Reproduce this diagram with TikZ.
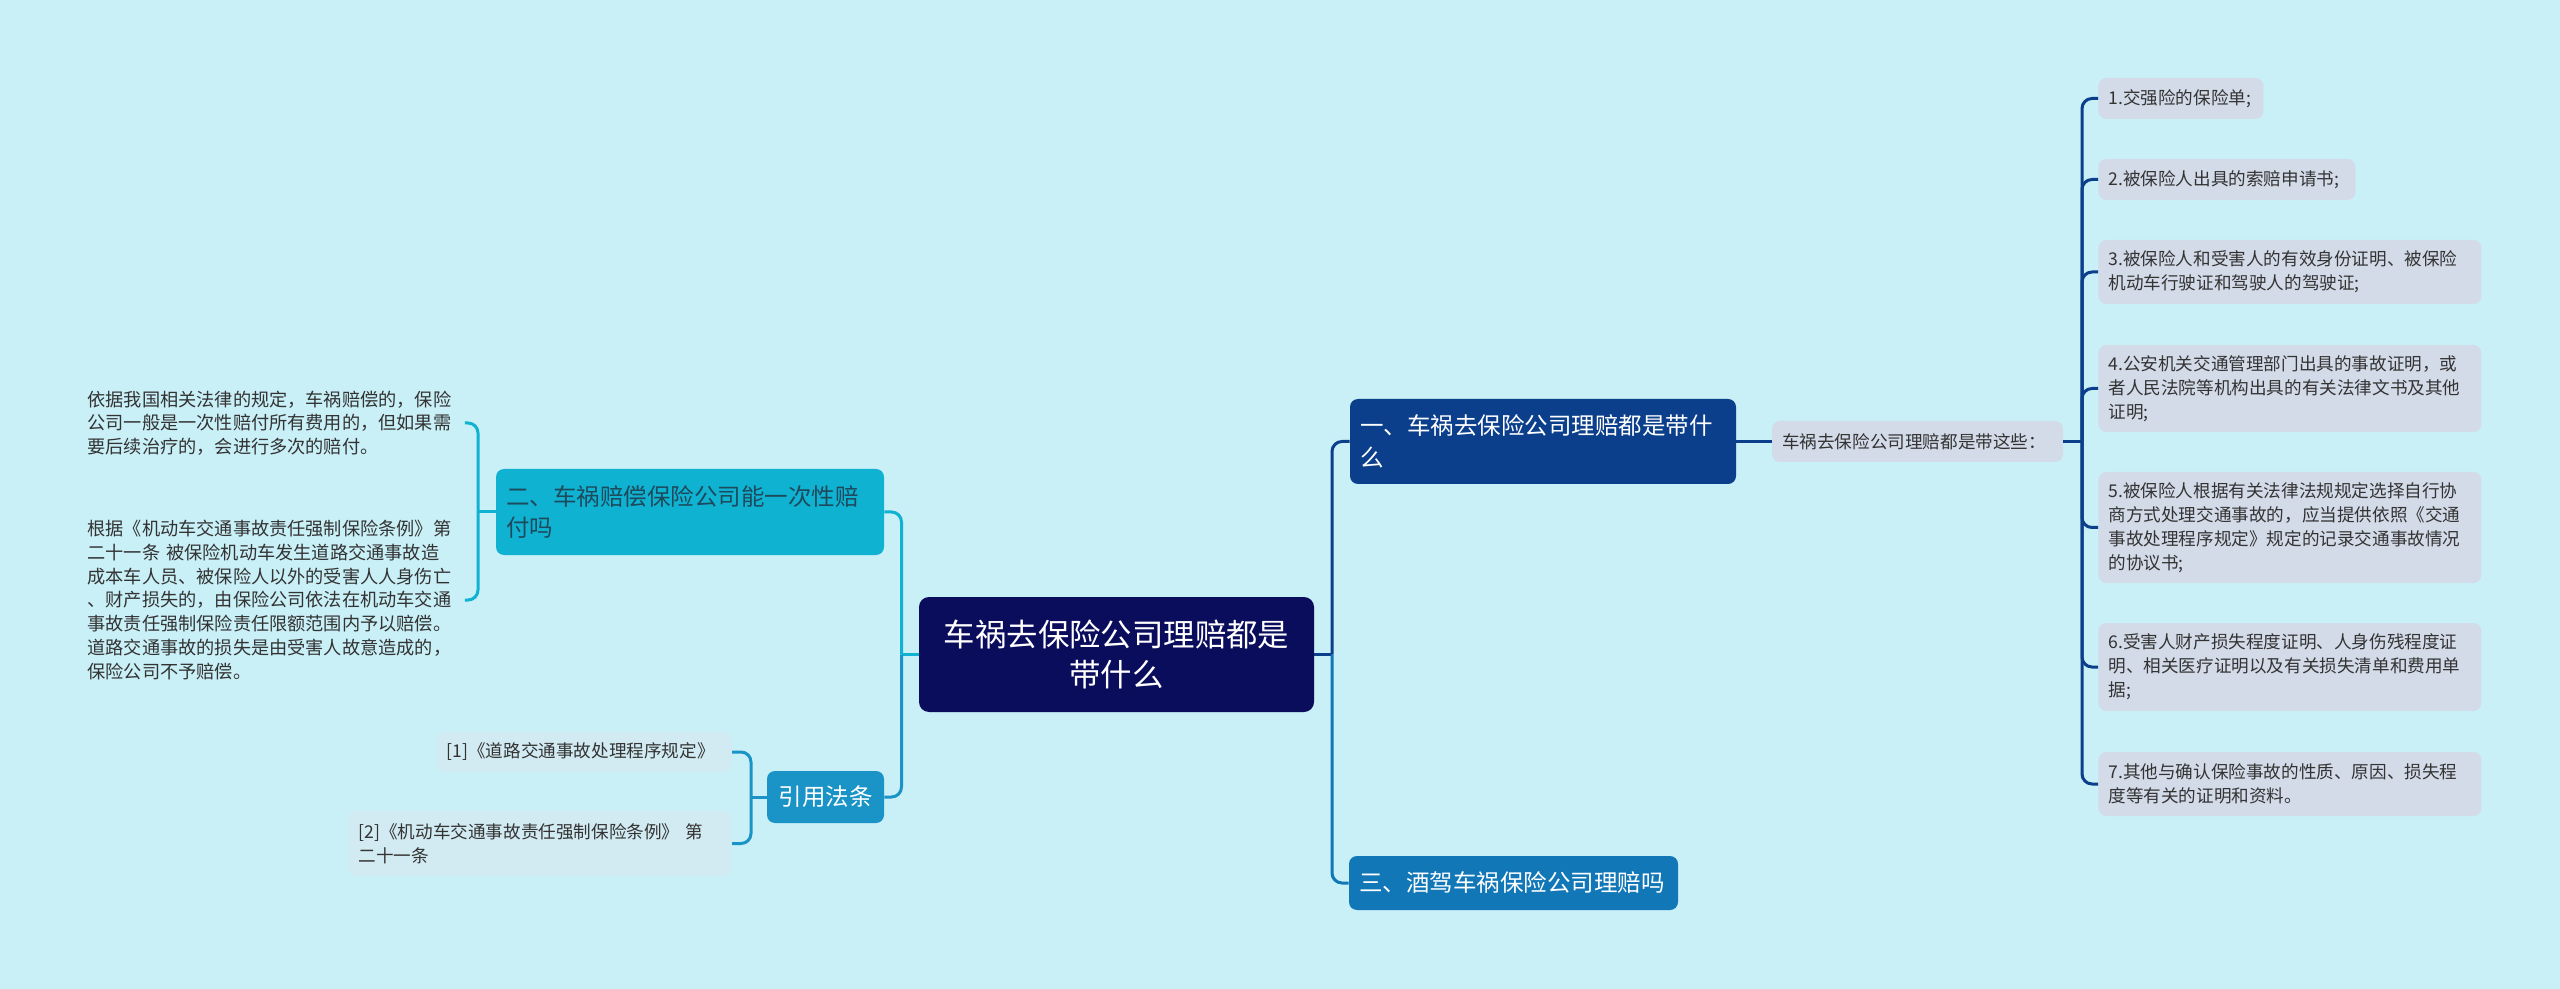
\documentclass[tikz,border=0pt]{standalone}
\usepackage{fontspec}
\setmainfont{Noto Sans CJK SC}
\usepackage{xcolor}
\usepackage{tikz}
\usetikzlibrary{positioning, calc}

\definecolor{bgcol}{HTML}{C9EFF7}
\definecolor{rootcol}{HTML}{0A0C5C}
\definecolor{onecol}{HTML}{0B3F8B}
\definecolor{twocol}{HTML}{10B2D2}
\definecolor{threecol}{HTML}{1177B7}
\definecolor{refcol}{HTML}{1A93C7}
\definecolor{itemcol}{HTML}{D3DBE9}
\definecolor{refbox}{HTML}{D2EAF2}
\definecolor{twotext}{HTML}{1D4A5C}
\definecolor{bodytext}{HTML}{333333}

\begin{document}
\begin{tikzpicture}[x=0.5pt, y=-0.5pt,
  topic/.style={rounded corners=4pt, inner ysep=0pt, inner xsep=5pt, align=left, font=\fontsize{11.75}{16}\selectfont},
  leaf/.style={rounded corners=4pt, inner ysep=0pt, inner xsep=5pt, text=bodytext, align=left, font=\fontsize{8.8}{12}\selectfont},
  link/.style={line width=1.5pt, rounded corners=5pt}]
  % background and page size
  \fill[bgcol] (0,0) rectangle (2560,989);
  \useasboundingbox (0,0) rectangle (2560,989);

  % central topic
  \node[fill=rootcol, text=white, rounded corners=5pt, align=center, minimum width=197.5pt, minimum height=57.5pt,
        font=\fontsize{15.7}{20}\selectfont] (root) at (1116.5,654.5) {车祸去保险公司理赔都是\\带什么};

  % right branches
  \node[topic, fill=onecol, text=white, minimum width=193pt, minimum height=42.5pt, text width=183pt]
    (one) at (1543,441.5) {一、车祸去保险公司理赔都是带什\\么};
  \node[topic, fill=threecol, text=white, minimum width=164.5pt, minimum height=27pt, text width=154.5pt]
    (three) at (1513.5,883) {三、酒驾车祸保险公司理赔吗};
  \node[leaf, fill=itemcol, minimum width=145.5pt, minimum height=20.5pt, text width=135.5pt]
    (these) at (1917.5,441.5) {车祸去保险公司理赔都是带这些：};

  % left branches
  \node[topic, fill=twocol, text=twotext, minimum width=194pt, minimum height=43pt, text width=184pt,
        font=\fontsize{11.75}{15.5}\selectfont] (two) at (690,512) {二、车祸赔偿保险公司能一次性赔\\付吗};
  \node[topic, fill=refcol, text=white, align=center, minimum width=58.5pt, minimum height=26pt]
    (cite) at (825.5,797) {引用法条};

  % answers of branch two (no box)
  \node[leaf, anchor=west, minimum width=193.5pt, text width=183.5pt, font=\fontsize{9.1}{11.85}\selectfont]
    (ans1) at (77,423) {依据我国相关法律的规定，车祸赔偿的，保险\\公司一般是一次性赔付所有费用的，但如果需\\要后续治疗的，会进行多次的赔付。};
  \node[leaf, anchor=west, minimum width=193.5pt, text width=183.5pt, font=\fontsize{9.1}{11.85}\selectfont]
    (ans2) at (77,600) {根据《机动车交通事故责任强制保险条例》第\\二十一条 被保险机动车发生道路交通事故造\\成本车人员、被保险人以外的受害人人身伤亡\\、财产损失的，由保险公司依法在机动车交通\\事故责任强制保险责任限额范围内予以赔偿。\\道路交通事故的损失是由受害人故意造成的，\\保险公司不予赔偿。};

  % cited laws
  \node[leaf, fill=refbox, anchor=east, minimum width=147.5pt, minimum height=20pt, text width=137.5pt]
    (law1) at (732,752) {[1]《道路交通事故处理程序规定》};
  \node[leaf, fill=refbox, anchor=east, minimum width=191.5pt, minimum height=32.5pt, text width=181.5pt]
    (law2) at (732,843.5) {[2]《机动车交通事故责任强制保险条例》 第\\二十一条};

  % documents list
  \foreach \i/\yc/\ih/\iw/\txt in {
    1/98.5/20.5/82.5/{1.交强险的保险单;},
    2/179.5/20.5/128.5/{2.被保险人出具的索赔申请书;},
    3/272/32/191.5/{3.被保险人和受害人的有效身份证明、被保险\\机动车行驶证和驾驶人的驾驶证;},
    4/388.5/43.5/191.5/{4.公安机关交通管理部门出具的事故证明，或\\者人民法院等机构出具的有关法律文书及其他\\证明;},
    5/527.5/55.5/191.5/{5.被保险人根据有关法律法规规定选择自行协\\商方式处理交通事故的，应当提供依照《交通\\事故处理程序规定》规定的记录交通事故情况\\的协议书;},
    6/667/44/191.5/{6.受害人财产损失程度证明、人身伤残程度证\\明、相关医疗证明以及有关损失清单和费用单\\据;},
    7/784/32/191.5/{7.其他与确认保险事故的性质、原因、损失程\\度等有关的证明和资料。}} {
    \pgfmathsetmacro{\tw}{\iw-10}
    \node[leaf, fill=itemcol, anchor=west, minimum height=\ih pt, minimum width=\iw pt, text width=\tw pt]
      (item\i) at (2098,\yc) {\txt};
  }

  % connectors right
  \coordinate (rbus) at (1332,654.5);
  \coordinate (ibus) at (2082,441.5);
  \draw[link, onecol] (root.east) -- (rbus);
  \draw[link, onecol] (rbus) |- (one.west);
  \draw[link, threecol] (rbus) |- (three.west);
  \draw[link, onecol] (one.east) -- (these.west);
  \draw[link, onecol] (these.east) -- (ibus);
  \foreach \i in {1,...,7} {
    \draw[link, onecol] (ibus) |- (item\i.west);
  }

  % connectors left
  \coordinate (lbus) at (901.5,654.5);
  \coordinate (tbus) at (478,512);
  \coordinate (cbus) at (751,797);
  \draw[link, twocol] (root.west) -- (lbus);
  \draw[link, twocol] (lbus) |- (two.east);
  \draw[link, refcol] (lbus) |- (cite.east);
  \draw[link, twocol] (two.west) -- (tbus);
  \draw[link, twocol] (tbus) |- (ans1.east);
  \draw[link, twocol] (tbus) |- (ans2.east);
  \draw[link, refcol] (cite.west) -- (cbus);
  \draw[link, refcol] (cbus) |- (law1.east);
  \draw[link, refcol] (cbus) |- (law2.east);
\end{tikzpicture}
\end{document}
